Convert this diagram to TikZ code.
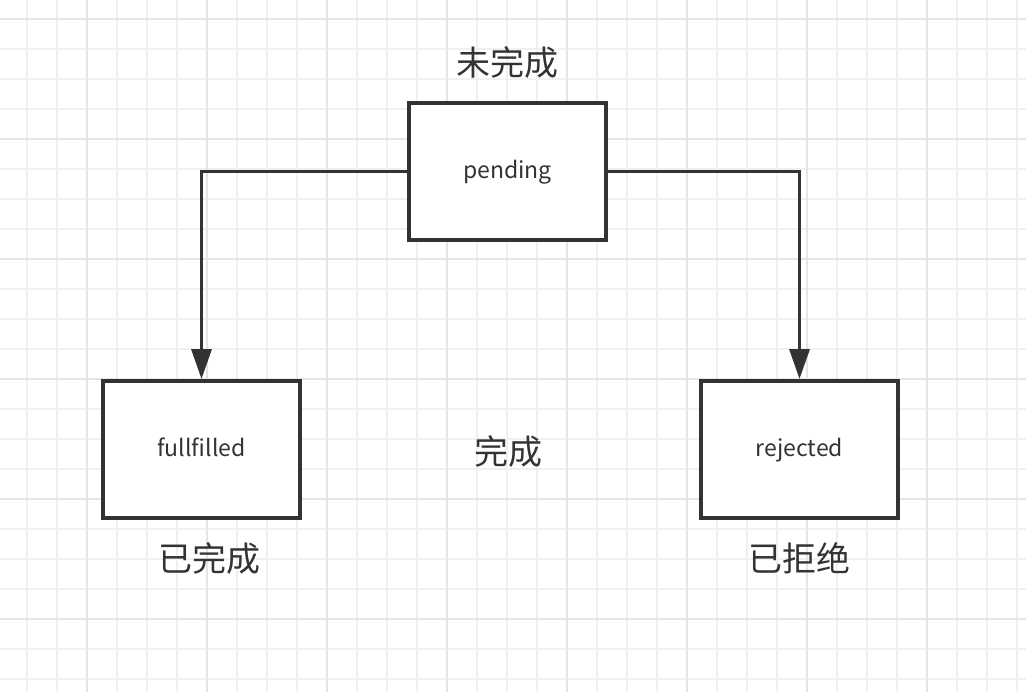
\documentclass[tikz,border=0pt]{standalone}
\usepackage{fontspec}
\newfontfamily\cjk{Noto Sans CJK SC}
\usepackage{xcolor}
\usetikzlibrary{positioning,arrows.meta}
\definecolor{ink}{HTML}{333333}
\definecolor{gridminor}{HTML}{F0F0F0}
\definecolor{gridmajor}{HTML}{E5E5E5}

\begin{document}
\begin{tikzpicture}[
    x=0.5pt, y=-0.5pt,
    node distance=10pt,
    state/.style={draw=ink, line width=2pt, fill=white, minimum width=98.5pt, minimum height=68.5pt, text height=8pt, text depth=1pt, font=\cjk\fontsize{11.5}{14}\selectfont, text=ink},
    tag/.style={font=\cjk\fontsize{17}{20}\selectfont, text=ink, inner sep=0pt},
    arr/.style={-{Triangle[length=15pt,width=10pt]}, line width=1.7pt, draw=ink},
]
\useasboundingbox (0,0) rectangle (1026,692);
\fill[white] (0,0) rectangle (1026,692);
% Grid
\foreach \x in {27,57,...,1017} \draw[gridminor, line width=0.8pt] (\x,0) -- (\x,692);
\foreach \y in {19,49,...,679} \draw[gridminor, line width=0.8pt] (0,\y) -- (1026,\y);
\foreach \x in {87,207,...,927} \draw[gridmajor, line width=0.9pt] (\x,0) -- (\x,692);
\foreach \y in {19,139,...,619} \draw[gridmajor, line width=0.9pt] (0,\y) -- (1026,\y);

% States
\node[state] (pending) at (507.5,171.5) {pending};
\node[state] (fullfilled) at (201.5,449.5) {fullfilled};
\node[state] (rejected) at (799.5,449.5) {rejected};

\draw[arr] (pending.west) -| (fullfilled.north);
\draw[arr] (pending.east) -| (rejected.north);

% Labels
\node[tag, above=11pt of pending] (pendingtag) {未完成};
\node[tag, below=11pt of fullfilled, xshift=4pt] (fullfilledtag) {已完成};
\node[tag, below=11pt of rejected] (rejectedtag) {已拒绝};
\node[tag] (donetag) at (508,452) {完成};
\end{tikzpicture}
\end{document}
